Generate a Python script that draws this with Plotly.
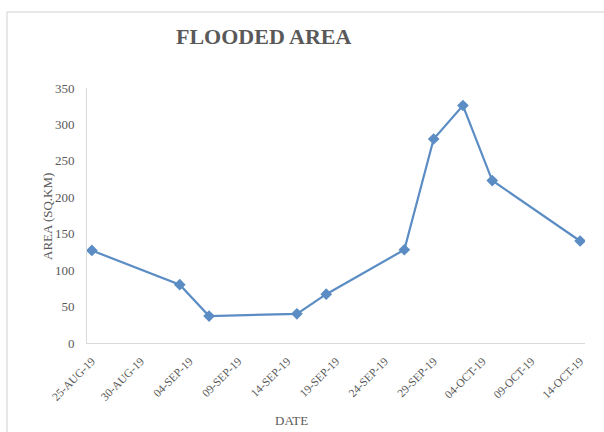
import plotly.graph_objects as go
import pandas as pd

# ---- data ----
dates = ["2019-08-25", "2019-09-03", "2019-09-06", "2019-09-15", "2019-09-18",
         "2019-09-26", "2019-09-29", "2019-10-02", "2019-10-05", "2019-10-14"]
area = [127, 80, 37, 40, 67, 128, 280, 326, 223, 140]
tick_dates = ["2019-08-25", "2019-08-30", "2019-09-04", "2019-09-09", "2019-09-14",
              "2019-09-19", "2019-09-24", "2019-09-29", "2019-10-04", "2019-10-09",
              "2019-10-14"]
tick_labels = ["25-AUG-19", "30-AUG-19", "04-SEP-19", "09-SEP-19", "14-SEP-19",
               "19-SEP-19", "24-SEP-19", "29-SEP-19", "04-OCT-19", "09-OCT-19",
               "14-OCT-19"]
y_ticks = [0, 50, 100, 150, 200, 250, 300, 350]

W, H = 604, 432
L, R, T, B = 87, 19, 88, 89
TXT = "#595959"
FONT = "Liberation Serif"
LINE = "#5B8DC4"

x_min = pd.Timestamp(dates[0]) - pd.Timedelta(hours=12)
x_max = pd.Timestamp(dates[-1]) + pd.Timedelta(hours=12)

fig = go.Figure()
fig.add_trace(go.Scatter(
    x=pd.to_datetime(dates), y=area, mode="lines+markers",
    line=dict(color=LINE, width=2.2),
    marker=dict(symbol="diamond", size=9, color=LINE),
    showlegend=False,
))

fig.update_layout(
    width=W, height=H,
    margin=dict(l=L, r=R, t=T, b=B),
    paper_bgcolor="white", plot_bgcolor="white",
    font=dict(family=FONT, color=TXT, size=12),
    xaxis=dict(
        type="date", range=[x_min, x_max],
        tickvals=pd.to_datetime(tick_dates), ticktext=tick_labels,
        tickangle=-45, showgrid=False, zeroline=False,
        showline=True, linecolor="#d9d9d9", linewidth=1,
        ticks="", ticklabelstandoff=6,
        tickfont=dict(family=FONT, size=11.5, color=TXT),
    ),
    yaxis=dict(
        range=[0, 350], tickvals=y_ticks,
        showgrid=False, zeroline=False,
        showline=True, linecolor="#d9d9d9", linewidth=1,
        ticks="", ticklabelstandoff=9,
        tickfont=dict(family=FONT, size=13, color=TXT),
    ),
    annotations=[
        dict(text="<b>FLOODED AREA</b>", xref="paper", yref="paper",
             x=(264 - L) / (W - L - R), y=(H - B - 36) / (H - T - B),
             xanchor="center", yanchor="middle", showarrow=False,
             font=dict(family=FONT, size=22, color=TXT)),
        dict(text="AREA (SQ.KM)", xref="paper", yref="paper",
             x=(47 - L) / (W - L - R), y=(H - B - 217) / (H - T - B),
             xanchor="center", yanchor="middle", textangle=-90, showarrow=False,
             font=dict(family=FONT, size=13, color=TXT)),
        dict(text="DATE", xref="paper", yref="paper",
             x=(291 - L) / (W - L - R), y=(H - B - 420) / (H - T - B),
             xanchor="center", yanchor="middle", showarrow=False,
             font=dict(family=FONT, size=13, color=TXT)),
    ],
    shapes=[
        dict(type="rect", xref="paper", yref="paper",
             x0=(7 - L) / (W - L - R), x1=(620 - L) / (W - L - R),
             y0=(H - B - 450) / (H - T - B), y1=(H - B - 12) / (H - T - B),
             line=dict(color="#d0d0d0", width=1), fillcolor="rgba(0,0,0,0)",
             layer="below"),
    ],
)

fig.write_html("out.html")
